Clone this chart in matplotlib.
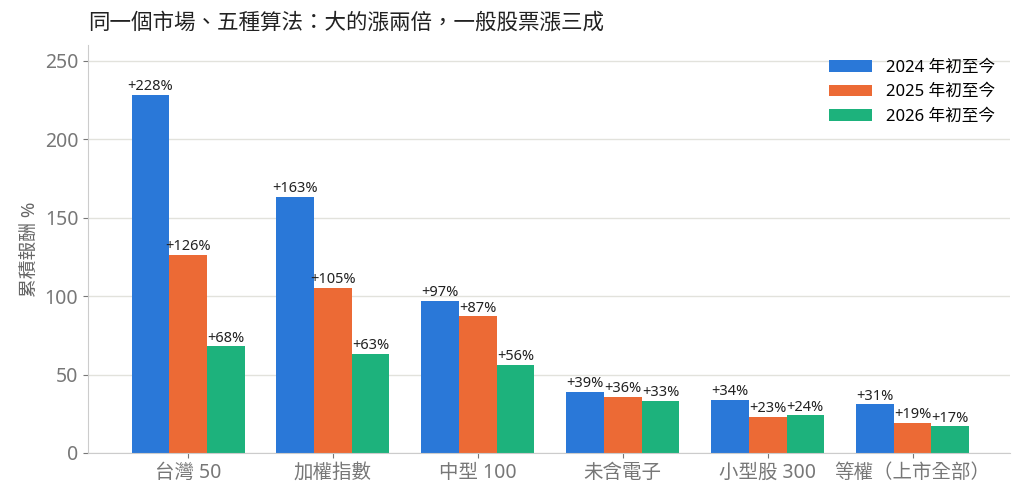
import numpy as np
import matplotlib.pyplot as plt

plt.rcParams['font.family'] = ['Noto Sans', 'Noto Sans CJK TC', 'DejaVu Sans']

categories = ['台灣 50', '加權指數', '中型 100', '未含電子', '小型股 300', '等權（上市全部）']
series_names = ['2024 年初至今', '2025 年初至今', '2026 年初至今']
ret_2024 = [228, 163, 97, 39, 34, 31]
ret_2025 = [126, 105, 87, 36, 23, 19]
ret_2026 = [68, 63, 56, 33, 24, 17]
colors = ['#2a78d8', '#ec6a35', '#1db27c']

fig = plt.figure(figsize=(10.24, 5), dpi=100)
ax = fig.add_axes([0.086, 0.094, 0.900, 0.816])

x = np.arange(len(categories))
w = 0.26
for i, (vals, name) in enumerate(zip([ret_2024, ret_2025, ret_2026], series_names)):
    bars = ax.bar(x + (i - 1) * w, vals, w, color=colors[i], label=name)
    for b, v in zip(bars, vals):
        ax.text(b.get_x() + b.get_width() / 2, v + 0.5, f'+{v}%', ha='center', va='bottom',
                fontsize=10.5, color='#222222')

ax.set_xlim(-0.69, 5.67)
ax.set_ylim(0, 260)
ax.set_xticks(x)
ax.set_xticklabels(categories, fontsize=14, color='#777777')
ax.set_yticks([0, 50, 100, 150, 200, 250])
ax.tick_params(axis='y', labelsize=14, labelcolor='#777777', color='#777777')
ax.tick_params(axis='x', color='#777777')
ax.set_ylabel('累積報酬 %', fontsize=13.5, color='#666666')
ax.yaxis.grid(True, color='#e2e2dc', linewidth=1)
ax.set_axisbelow(True)
for s in ['top', 'right']:
    ax.spines[s].set_visible(False)
for s in ['left', 'bottom']:
    ax.spines[s].set_color('#cccccc')

ax.set_title('同一個市場、五種算法：大的漲兩倍，一般股票漲三成', fontsize=15.5, loc='left',
             color='#222222', pad=12)
ax.legend(frameon=False, fontsize=12, loc='upper right', bbox_to_anchor=(1.0, 1.0),
          handlelength=2.6)

plt.savefig('out.png', dpi=100)
